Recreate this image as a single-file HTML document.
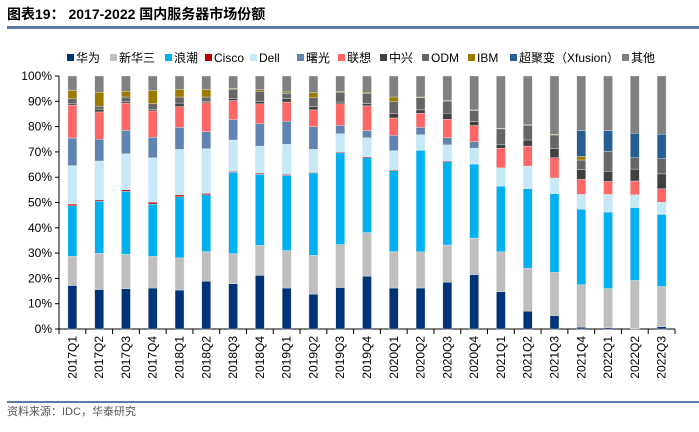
<!DOCTYPE html>
<html><head><meta charset="utf-8"><style>
body{margin:0;background:#fff;width:699px;height:427px;overflow:hidden;font-family:"Liberation Sans","Noto Sans CJK SC",sans-serif}
</style></head><body>
<svg width="699" height="427" xmlns="http://www.w3.org/2000/svg">
<text x="7" y="19" font-size="14" font-weight="bold" fill="#000" font-family="Liberation Sans, Noto Sans CJK SC, sans-serif">图表19：  2017-2022 国内服务器市场份额</text>
<rect x="7" y="26" width="692" height="3" fill="#5a7ba6"/>
<g id="legend"></g>
<g id="axes"></g>
<g id="bars"></g>
<rect x="7" y="401" width="692" height="2" fill="#5a7ba6"/>
<text x="7" y="415" font-size="11" fill="#555" font-family="Liberation Sans, Noto Sans CJK SC, sans-serif">资料来源：IDC，华泰研究</text>
</svg>
<script>
const categories=["2017Q1","2017Q2","2017Q3","2017Q4","2018Q1","2018Q2","2018Q3","2018Q4","2019Q1","2019Q2","2019Q3","2019Q4","2020Q1","2020Q2","2020Q3","2020Q4","2021Q1","2021Q2","2021Q3","2021Q4","2022Q1","2022Q2","2022Q3"];
const seriesNames=["华为","新华三","浪潮","Cisco","Dell","曙光","联想","中兴","ODM","IBM","超聚变（Xfusion）","其他"];
const huawei=[17.2,15.6,15.9,16.2,15.4,18.9,17.9,21.2,16.2,13.8,16.4,20.9,16.2,16.2,18.5,21.5,14.7,7,5.3,0.7,0.5,0.2,0.9];
const h3c=[11.5,14.3,13.6,12.5,12.7,11.7,11.9,11.9,14.8,15.3,17,17.2,14.4,14.3,14.7,14.4,15.8,17,17.1,16.8,15.5,19,15.9];
const inspur=[20,20.6,24.9,20.7,24.2,22.5,32.2,28.1,29.7,32.6,36.3,29.6,32,40.1,33,29.3,25.9,31.5,31.1,29.8,30.2,28.8,28.5];
const cisco=[0.7,0.5,0.6,0.7,0.7,0.5,0.3,0.4,0.4,0.3,0.3,0.4,0.3,0,0.3,0,0,0,0,0,0,0,0];
const dell=[15.2,15.4,14.3,17.6,18,17.7,12.4,10.7,11.9,9,7.2,7.5,7.6,6.2,6.3,6.3,7.3,8.9,6.2,5.9,7,5.1,4.8];
const sugon=[10.9,8.6,9.2,8.1,8.7,6.7,8.1,8.8,9.1,9,3.3,2.8,6.1,2.9,2.8,2.5,0,0,0,0,0,0,0];
const lenovo=[13,10.8,10.8,10.4,8.2,11.4,7.5,7.9,7.6,6.6,8.5,9.8,6.8,5.6,7.3,6.4,7.7,7.9,8,6,5.1,5.4,5.3];
const zte=[0.5,1.1,0.5,0.6,1.4,0.4,0.7,0.8,1.4,1.3,0.7,0.9,1.8,1.3,2.4,1.6,1.4,2.4,3.6,3.8,4,4.7,5.9];
const odm=[2,1.2,1.9,2.3,2.4,1.9,3.8,4.2,2.1,3.5,3.9,4.1,4.6,4.8,4.8,4.4,6.3,5.8,5.4,3.8,7.9,4.5,6];
const ibm=[3.3,5.5,2.3,5.1,3,3,0.3,0.6,0.5,2.1,0.3,0.4,1.9,0.3,0.2,0.2,0.2,0.2,0.3,1.4,0,0,0];
const xfusion=[0,0,0,0,0,0,0,0,0,0,0,0,0,0,0,0,0,0,0,10.2,8.2,9.7,9.7];
const other=[5.7,6.4,6,5.8,5.3,5.3,4.9,5.4,6.3,6.5,6.1,6.4,8.3,8.3,9.7,13.4,20.7,19.3,23,21.6,21.6,22.6,23];
const yTicks=[0,10,20,30,40,50,60,70,80,90,100];
const colors=["#003478","#bfbfbf","#00b0f0","#c00000","#c5e9f8","#5f84b2","#ff6666","#404040","#666666","#9c7a00","#265d94","#808080"];
const series=[huawei,h3c,inspur,cisco,dell,sugon,lenovo,zte,odm,ibm,xfusion,other];
const NS="http://www.w3.org/2000/svg";
const X0=59,X1=675,Y0=329,Y1=76;
const step=(X1-X0)/categories.length;
function xc(i){return X0+step*(i+0.5);}
function mk(tag,attrs,parent){const e=document.createElementNS(NS,tag);for(const k in attrs)e.setAttribute(k,attrs[k]);parent.appendChild(e);return e;}
const axes=document.getElementById('axes'),bars=document.getElementById('bars'),legend=document.getElementById('legend');
const FF="Liberation Sans, Noto Sans CJK SC, sans-serif";
let yl=mk('line',{x1:X0,y1:Y1,x2:X0,y2:Y0,stroke:'#000','stroke-width':1},axes);


yTicks.forEach(t=>{
  const y=Y0-(Y0-Y1)*t/100;
  mk('line',{x1:X0-4,y1:y,x2:X0,y2:y,stroke:'#000'},axes);
  const tx=mk('text',{x:X0-7,y:y+4,'font-size':12,'text-anchor':'end','font-family':FF},axes);
  tx.textContent=t+'%';
  
  
});
let xl=mk('line',{x1:X0,y1:Y0,x2:X1,y2:Y0,stroke:'#000','stroke-width':1},axes);


for(let i=0;i<=categories.length;i++){mk('line',{x1:X0+step*i,y1:Y0,x2:X0+step*i,y2:Y0+5,stroke:'#000'},axes);}
categories.forEach((c,i)=>{
  const x=xc(i);
  const tx=mk('text',{x:0,y:0,'font-size':12,'text-anchor':'end','font-family':FF,transform:`translate(${x+4},${Y0+7}) rotate(-90)`},axes);
  tx.textContent=c;
  
  
  let acc=0;
  series.forEach((s,k)=>{
    const v=s[i];
    if(v<=0)return;
    const yTop=Y0-(Y0-Y1)*(acc+v)/100, yBot=Y0-(Y0-Y1)*acc/100;
    acc+=v;
    const r=mk('rect',{x:x-4.5,y:yTop,width:9,height:yBot-yTop,fill:colors[k],stroke:'#e8e8e8','stroke-width':0.4},bars);
    
    
  });
});
const legX=[67,110,165,205,250,297,338,380,422,468,510,622];
seriesNames.forEach((n,k)=>{
  const sw=mk('rect',{x:legX[k],y:54,width:7,height:7,fill:colors[k]},legend);
  
  
  const t=mk('text',{x:legX[k]+9,y:62,'font-size':12,'font-family':FF},legend);
  t.textContent=n;
  
  
});
</script>
</body></html>
